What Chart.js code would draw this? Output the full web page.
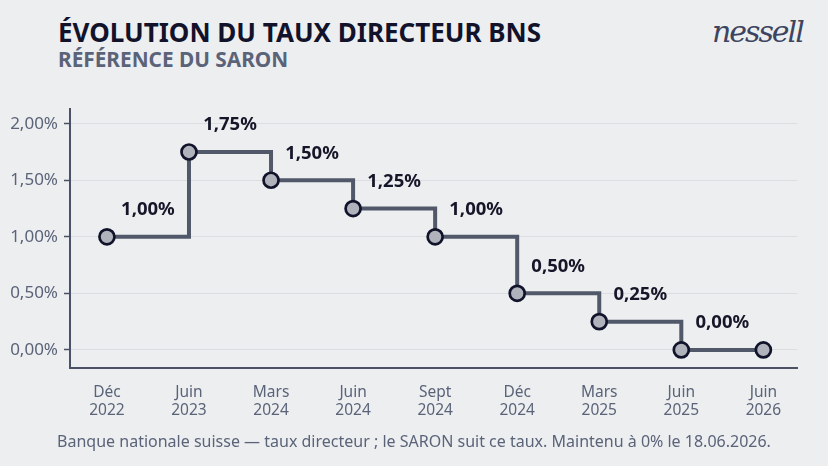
<!DOCTYPE html>
<html lang="fr">
<head>
<meta charset="utf-8">
<script src="https://cdn.jsdelivr.net/npm/chart.js@4.4.1/dist/chart.umd.min.js"></script>
<style>
  html, body { margin: 0; padding: 0; }
  body {
    width: 828px; height: 466px; overflow: hidden; position: relative;
    background: #edeef0; font-family: "Noto Sans", sans-serif;
  }
  #titre { position: absolute; left: 58px; top: 14px; font-size: 26px; font-weight: 700; color: #12132b; }
  #sous-titre { position: absolute; left: 58px; top: 45px; font-size: 20.8px; font-weight: 700; color: #5a6378; }
  #logo { position: absolute; left: 712px; top: 14px; font-family: "DejaVu Serif", serif; font-style: italic; font-size: 30px; color: #3d4460; letter-spacing: -2px; }
  #source { position: absolute; left: 0; width: 828px; top: 430px; text-align: center; font-size: 16px; color: #5a6378; }
  #wrap { position: absolute; left: 0; top: 0; width: 828px; height: 466px; }
</style>
</head>
<body>
<div id="titre">ÉVOLUTION DU TAUX DIRECTEUR BNS</div>
<div id="sous-titre">RÉFÉRENCE DU SARON</div>
<div id="logo">nessell</div>
<div id="wrap"><canvas id="graph" width="828" height="466"></canvas></div>
<div id="source">Banque nationale suisse — taux directeur ; le SARON suit ce taux. Maintenu à 0% le 18.06.2026.</div>
<script>
// dates des décisions (deux lignes par étiquette)
const dates = [
  ['Déc', '2022'], ['Juin', '2023'], ['Mars', '2024'], ['Juin', '2024'],
  ['Sept', '2024'], ['Déc', '2024'], ['Mars', '2025'], ['Juin', '2025'], ['Juin', '2026']
];
const taux = [1.00, 1.75, 1.50, 1.25, 1.00, 0.50, 0.25, 0.00, 0.00];
const yTicks = [0, 0.5, 1, 1.5, 2];

function fmt(v) {
  return v.toFixed(2).replace('.', ',') + '%';
}

// étiquette seulement quand le taux change (pas sur le dernier point, maintenu)
const etiquettes = {
  id: 'etiquettes',
  afterDatasetsDraw(chart) {
    const ctx = chart.ctx;
    const meta = chart.getDatasetMeta(0);
    ctx.save();
    ctx.font = 'bold 18.5px "Noto Sans"';
    ctx.fillStyle = '#151628';
    ctx.textAlign = 'center';
    ctx.textBaseline = 'middle';
    meta.data.forEach(function (pt, i) {
      if (i > 0 && taux[i] === taux[i - 1]) return;
      ctx.fillText(fmt(taux[i]), pt.x + 41, pt.y - 27);
    });
    ctx.restore();
  }
};

new Chart(document.getElementById('graph'), {
  type: 'line',
  data: {
    datasets: [{
      data: taux.map(function (v, i) { return { x: i, y: v }; }),
      stepped: 'before',
      borderColor: '#505869',
      borderWidth: 4,
      pointRadius: 7.5,
      pointBackgroundColor: '#b0b3bb',
      pointBorderColor: '#11132a',
      pointBorderWidth: 2.7,
      fill: false
    }]
  },
  options: {
    responsive: false,
    animation: false,
    devicePixelRatio: 1,
    layout: { padding: { top: 109, right: 31, bottom: 0, left: 0 } },
    plugins: { legend: { display: false }, tooltip: { enabled: false } },
    scales: {
      x: {
        type: 'linear',
        min: -0.45,
        max: 8.41,
        afterBuildTicks: function (s) { s.ticks = dates.map(function (d, i) { return { value: i }; }); },
        afterFit: function (s) { s.height = 98; },
        grid: { display: false, drawTicks: false },
        border: { display: true, color: '#4a5166', width: 2 },
        ticks: {
          autoSkip: false,
          maxRotation: 0,
          padding: 15,
          color: '#5a6378',
          font: { family: 'Noto Sans', size: 15.5, lineHeight: 1.18 },
          callback: function (v) { return dates[v]; }
        }
      },
      y: {
        min: -0.16,
        max: 2.13,
        afterBuildTicks: function (s) { s.ticks = yTicks.map(function (v) { return { value: v }; }); },
        afterFit: function (s) { s.width = 70; },
        grid: { color: '#dcdde2', lineWidth: 1, drawTicks: true, tickLength: 6, tickColor: '#4a5166', tickWidth: 1.5 },
        border: { display: true, color: '#4a5166', width: 2 },
        ticks: {
          padding: 6,
          color: '#5a6378',
          font: { family: 'Noto Sans', size: 17 },
          callback: function (v) { return fmt(v); }
        }
      }
    }
  },
  plugins: [etiquettes]
});
</script>
</body>
</html>
